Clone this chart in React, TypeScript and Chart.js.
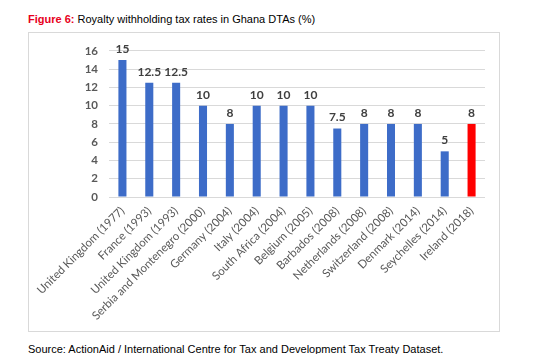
import React, { useEffect, useRef } from "react";
import { Chart, registerables } from "chart.js";

Chart.register(...registerables);

const categories = [
  "United Kingdom (1977)",
  "France (1993)",
  "United Kingdom (1993)",
  "Serbia and Montenegro (2000)",
  "Germany (2004)",
  "Italy (2004)",
  "South Africa (2004)",
  "Belgium (2005)",
  "Barbados (2008)",
  "Netherlands (2008)",
  "Switzerland (2008)",
  "Denmark (2014)",
  "Seychelles (2014)",
  "Ireland (2018)",
];
const rates = [15, 12.5, 12.5, 10, 8, 10, 10, 10, 7.5, 8, 8, 8, 5, 8];
const highlighted = ["Ireland (2018)"];
const yTicks = [0, 2, 4, 6, 8, 10, 12, 14, 16];

const BLUE = "#3D6CC8";
const RED = "#FF0000";

const labelPlugin = {
  id: "barLabels",
  afterDatasetsDraw(chart: any) {
    const { ctx } = chart;
    const meta = chart.getDatasetMeta(0);
    ctx.save();
    ctx.font = "bold 12px Lato, 'Liberation Sans', sans-serif";
    ctx.fillStyle = "#404040";
    ctx.textAlign = "center";
    ctx.textBaseline = "bottom";
    meta.data.forEach((el: any, i: number) => {
      ctx.fillText(String(rates[i]), el.x, el.y - 5);
    });
    ctx.restore();
  },
};

export default function App() {
  const ref = useRef<HTMLCanvasElement>(null);
  useEffect(() => {
    if (!ref.current) return;
    const chart = new Chart(ref.current, {
      type: "bar",
      data: {
        labels: categories,
        datasets: [
          {
            data: rates,
            backgroundColor: categories.map((c) => (highlighted.includes(c) ? RED : BLUE)),
            barPercentage: 0.3,
            categoryPercentage: 1,
          },
        ],
      },
      options: {
        responsive: false,
        animation: false,
        layout: { padding: { top: 15, right: 14, left: 0, bottom: 0 } },
        plugins: { legend: { display: false }, tooltip: { enabled: false } },
        scales: {
          x: {
            grid: { display: false, drawTicks: false },
            border: { display: false },
            ticks: {
              maxRotation: 45,
              minRotation: 45,
              autoSkip: false,
              padding: 7,
              color: "#595959",
              font: { family: "Lato, 'Liberation Sans', sans-serif", size: 11.5 },
            },
            afterFit: (s: any) => {
              s.height = 134;
            },
          },
          y: {
            min: 0,
            max: 16,
            afterBuildTicks: (s: any) => {
              s.ticks = yTicks.map((v) => ({ value: v }));
            },
            grid: { color: "#D9D9D9", drawTicks: false, lineWidth: 1 },
            border: { display: false },
            ticks: {
              padding: 11,
              color: "#595959",
              font: { family: "Lato, 'Liberation Sans', sans-serif", size: 11.5, weight: "bold" },
            },
            afterFit: (s: any) => {
              s.width = 80;
            },
          },
        },
      },
      plugins: [labelPlugin],
    });
    return () => chart.destroy();
  }, []);

  return (
    <div style={{ position: "relative", width: 551, height: 362, margin: -8, background: "#fff", fontFamily: "'Liberation Sans', Arial, sans-serif" }}>
      <div style={{ position: "absolute", left: 28, top: 13, fontSize: 11, color: "#000", whiteSpace: "nowrap" }}>
        <span style={{ color: "#E8001C", fontWeight: "bold" }}>Figure 6:</span> Royalty withholding tax rates in Ghana DTAs (%)
      </div>
      <div style={{ position: "absolute", left: 28, top: 32, width: 472, height: 300, border: "1px solid #D9D9D9", boxSizing: "border-box" }}>
        <canvas ref={ref} width={470} height={298} style={{ display: "block" }} />
      </div>
      <div style={{ position: "absolute", left: 28, top: 343, fontSize: 11, color: "#000", whiteSpace: "nowrap" }}>
        Source: ActionAid / International Centre for Tax and Development Tax Treaty Dataset.
      </div>
    </div>
  );
}
